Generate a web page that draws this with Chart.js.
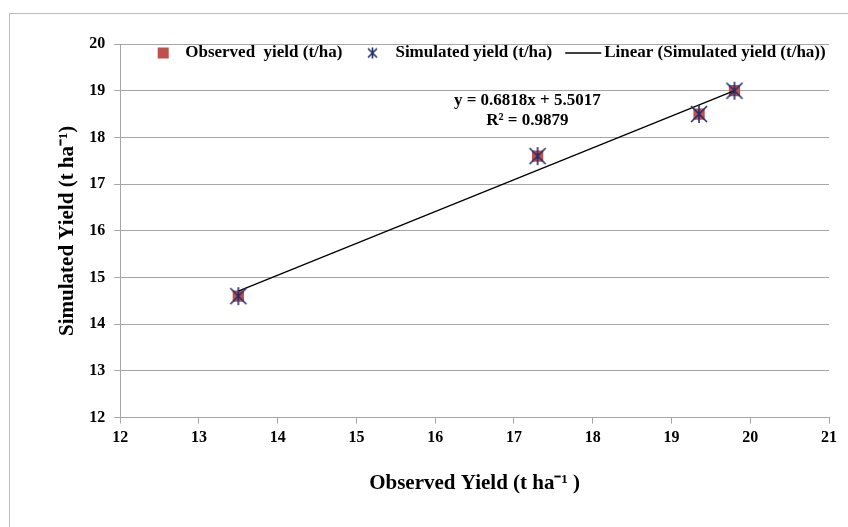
<!DOCTYPE html>
<html>
<head>
<meta charset="utf-8">
<script src="https://cdn.jsdelivr.net/npm/chart.js@4"></script>
<style>
  body { margin: 0; background: #fff; }
  #wrap { width: 848px; height: 527px; }
</style>
</head>
<body>
<div id="wrap"><canvas id="myChart" width="848" height="527"></canvas></div>
<script>
const observedX = [13.5, 17.3, 19.35, 19.8];
const observedY = [14.6, 17.6, 18.5, 19.0];
const simulatedY = [14.6, 17.6, 18.5, 19.0];
const trendX = [13.5, 19.8];
const trendY = [14.71, 19.0];
const xTicks = [12, 13, 14, 15, 16, 17, 18, 19, 20, 21];
const yTicks = [12, 13, 14, 15, 16, 17, 18, 19, 20];
const legendLabels = ['Observed  yield (t/ha)', 'Simulated yield (t/ha)', 'Linear (Simulated yield (t/ha))'];

const FONT = "'Liberation Serif', 'Times New Roman', serif";
const RED = '#c0504d';
const NAVY = '#1f2d6b';

// asterisk-like marker: an X with a vertical bar
function makeStar(size) {
  const cv = document.createElement('canvas');
  cv.width = size;
  cv.height = size;
  const c = cv.getContext('2d');
  const m = size / 2;
  c.strokeStyle = NAVY;
  c.lineWidth = 1.6;
  c.beginPath();
  c.moveTo(2, 2); c.lineTo(size - 2, size - 2);
  c.moveTo(size - 2, 2); c.lineTo(2, size - 2);
  c.moveTo(m, 1); c.lineTo(m, size - 1);
  c.stroke();
  return cv;
}
const star = makeStar(20);
const smallStar = makeStar(13);

const toPoints = (xs, ys) => xs.map((x, i) => ({ x: x, y: ys[i] }));

const extras = {
  id: 'extras',
  beforeDraw(chart) {
    const ctx = chart.ctx;
    ctx.save();
    ctx.strokeStyle = '#bdbdbd';
    ctx.lineWidth = 1;
    ctx.strokeRect(9.5, 13.5, 900, 600);
    ctx.restore();
  },
  afterDraw(chart) {
    const ctx = chart.ctx;
    const xs = chart.scales.x, ys = chart.scales.y;
    ctx.save();
    ctx.fillStyle = '#000';
    ctx.font = 'bold 17px ' + FONT;
    ctx.textBaseline = 'middle';

    // trendline equation
    ctx.textAlign = 'center';
    const cx = xs.getPixelForValue(17.17);
    ctx.fillText('y = 0.6818x + 5.5017', cx, ys.getPixelForValue(18.78));
    ctx.fillText('R\u00B2 = 0.9879', cx, ys.getPixelForValue(18.37));

    // legend row inside the plot, as in the spreadsheet chart
    ctx.textAlign = 'left';
    const ly = chart.chartArea.top + 9;
    let x = chart.chartArea.left + 43;
    ctx.fillStyle = RED;
    ctx.fillRect(x - 5.5, ly - 5.5, 11, 11);
    ctx.fillStyle = '#000';
    x += 22;
    ctx.fillText(legendLabels[0], x, ly);
    x += ctx.measureText(legendLabels[0]).width + 30;
    ctx.drawImage(smallStar, x - 6.5, ly - 6.5);
    x += 23;
    ctx.fillText(legendLabels[1], x, ly);
    x += ctx.measureText(legendLabels[1]).width + 13;
    ctx.strokeStyle = '#000';
    ctx.lineWidth = 1.3;
    ctx.beginPath();
    ctx.moveTo(x, ly);
    ctx.lineTo(x + 36, ly);
    ctx.stroke();
    x += 39;
    ctx.fillText(legendLabels[2], x, ly);
    ctx.restore();
  }
};

const config = {
  type: 'scatter',
  data: {
    datasets: [
      {
        label: legendLabels[0],
        data: toPoints(observedX, observedY),
        pointStyle: 'rect',
        pointRadius: 8,
        backgroundColor: RED,
        borderColor: RED,
        borderWidth: 0,
        order: 3
      },
      {
        label: legendLabels[1],
        data: toPoints(observedX, simulatedY),
        pointStyle: star,
        backgroundColor: NAVY,
        borderColor: NAVY,
        order: 1
      },
      {
        label: legendLabels[2],
        type: 'line',
        data: toPoints(trendX, trendY),
        borderColor: '#000',
        backgroundColor: '#000',
        borderWidth: 1.3,
        pointRadius: 0,
        order: 2
      }
    ]
  },
  options: {
    responsive: false,
    animation: false,
    layout: { padding: { left: 55, right: 19, top: 44, bottom: 31 } },
    plugins: {
      legend: { display: false },
      tooltip: { enabled: false }
    },
    scales: {
      x: {
        type: 'linear',
        min: 12, max: 21,
        afterBuildTicks: s => { s.ticks = xTicks.map(v => ({ value: v })); },
        grid: { drawOnChartArea: false, color: '#a6a6a6', tickLength: 6 },
        border: { color: '#a6a6a6' },
        ticks: { color: '#000', font: { family: FONT, size: 16, weight: 'bold' }, padding: 5 },
        title: {
          display: true,
          text: 'Observed Yield (t ha\u207B\u00B9 )',
          color: '#000',
          font: { family: FONT, size: 21, weight: 'bold' },
          padding: { top: 18, bottom: 0 }
        }
      },
      y: {
        type: 'linear',
        min: 12, max: 20,
        afterBuildTicks: s => { s.ticks = yTicks.map(v => ({ value: v })); },
        grid: { color: '#a6a6a6', tickLength: 6 },
        border: { color: '#a6a6a6' },
        ticks: { color: '#000', font: { family: FONT, size: 16, weight: 'bold' }, padding: 9 },
        title: {
          display: true,
          text: 'Simulated Yield (t ha\u207B\u00B9)',
          color: '#000',
          font: { family: FONT, size: 21, weight: 'bold' },
          padding: { top: 0, bottom: 0 }
        }
      }
    }
  },
  plugins: [extras]
};

const myChart = new Chart(document.getElementById('myChart'), config);
</script>
</body>
</html>
